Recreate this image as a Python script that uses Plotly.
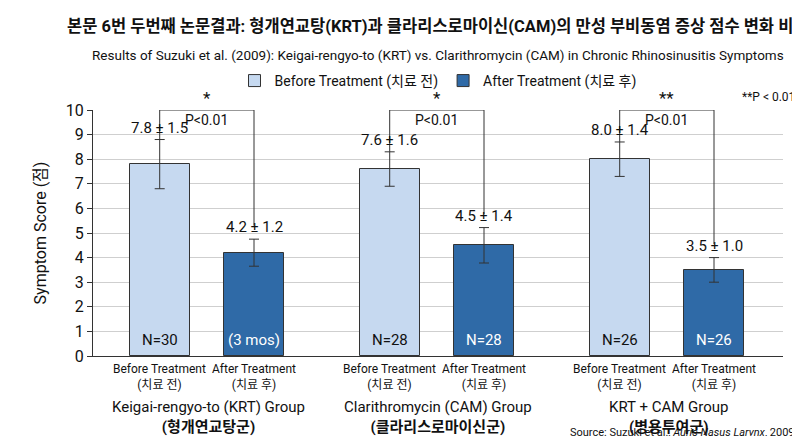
import plotly.graph_objects as go

groups = ["Keigai-rengyo-to (KRT) Group<br><b>(형개연교탕군)</b>",
          "Clarithromycin (CAM) Group<br><b>(클라리스로마이신군)</b>",
          "KRT + CAM Group<br><b>(병용투여군)</b>"]
before_mean = [7.8, 7.6, 8.0]
before_sd = [1.5, 1.6, 1.4]
before_err = [1.0, 0.7, 0.7]
after_mean = [4.2, 4.5, 3.5]
after_sd = [1.2, 1.4, 1.0]
after_err = [0.55, 0.72, 0.5]
before_n = ["N=30", "N=28", "N=26"]
after_n = ["(3 mos)", "N=28", "N=26"]
stars = ["*", "*", "**"]

FONT = "Roboto, Noto Sans CJK KR, Arial"
xb = [g + 0.29 for g in range(3)]
xa = [g + 0.70 for g in range(3)]

fig = go.Figure()
fig.add_trace(go.Bar(x=xb, y=before_mean, width=0.26, name="Before Treatment (치료 전)",
                     marker=dict(color="#c6d9f0", line=dict(color="#333", width=1)),
                     error_y=dict(type="data", array=before_err, color="#333", thickness=1, width=5)))
fig.add_trace(go.Bar(x=xa, y=after_mean, width=0.26, name="After Treatment (치료 후)",
                     marker=dict(color="#2f6aa7", line=dict(color="#333", width=1)),
                     error_y=dict(type="data", array=after_err, color="#333", thickness=1, width=5)))

for i in range(3):
    fig.add_annotation(x=xb[i], y=before_mean[i] + before_err[i], text=f"{before_mean[i]:.1f} ± {before_sd[i]:.1f}",
                       showarrow=False, yanchor="bottom", yshift=1, font=dict(size=15))
    fig.add_annotation(x=xa[i], y=after_mean[i] + after_err[i], text=f"{after_mean[i]:.1f} ± {after_sd[i]:.1f}",
                       showarrow=False, yanchor="bottom", yshift=1, font=dict(size=15))
    fig.add_annotation(x=xb[i], y=0.65, text=before_n[i], showarrow=False, font=dict(size=15, color="#111"))
    fig.add_annotation(x=xa[i], y=0.65, text=after_n[i], showarrow=False, font=dict(size=15, color="white"))
    # bracket
    fig.add_shape(type="path", line=dict(color="#333", width=1),
                  path=f"M {xb[i]},{before_mean[i] + before_err[i]} L {xb[i]},10 L {xa[i]},10 L {xa[i]},{after_mean[i] + after_err[i] + 0.55}")
    fig.add_annotation(x=(xb[i] + xa[i]) / 2, y=10, text=stars[i], showarrow=False, yanchor="bottom",
                       font=dict(size=17, color="#111"))
    fig.add_annotation(x=(xb[i] + xa[i]) / 2, y=9.6, text="P<0.01", showarrow=False, font=dict(size=14))
    fig.add_annotation(x=xb[i], y=0, yref="y", text="Before Treatment<br>(치료 전)", showarrow=False,
                       yanchor="top", yshift=-4, font=dict(size=12))
    fig.add_annotation(x=xa[i], y=0, yref="y", text="After Treatment<br>(치료 후)", showarrow=False,
                       yanchor="top", yshift=-4, font=dict(size=12))
    fig.add_annotation(x=i + 0.5, y=0, yref="y", text=groups[i], showarrow=False,
                       yanchor="top", yshift=-40, font=dict(size=15))
    if i > 0:
        fig.add_shape(type="line", x0=i, x1=i, y0=0, y1=-0.25, line=dict(color="#333", width=1))

fig.add_annotation(x=0.5, y=1.385, xref="paper", yref="paper", text="<b>본문 6번 두번째 논문결과: 형개연교탕(KRT)과 클라리스로마이신(CAM)의 만성 부비동염 증상 점수 변화 비교</b>",
                   showarrow=False, font=dict(size=16.5), yanchor="top")
fig.add_annotation(x=0.5, y=1.265, xref="paper", yref="paper",
                   text="Results of Suzuki et al. (2009): Keigai-rengyo-to (KRT) vs. Clarithromycin (CAM) in Chronic Rhinosinusitis Symptoms",
                   showarrow=False, font=dict(size=13.5), yanchor="top")
fig.add_annotation(x=1.02, y=1.09, xref="paper", yref="paper", text="**P < 0.01", showarrow=False,
                   xanchor="right", font=dict(size=12))
fig.add_annotation(x=1.02, y=-0.345, xref="paper", yref="paper",
                   text="Source: Suzuki et al., <i>Auris Nasus Larynx</i>, 2009", showarrow=False,
                   xanchor="right", yanchor="bottom", font=dict(size=11))

fig.update_layout(
    width=800, height=436, plot_bgcolor="white", paper_bgcolor="white",
    margin=dict(l=85, r=25, t=102, b=88),
    font=dict(family=FONT, color="#111"),
    bargap=0, showlegend=True,
    legend=dict(orientation="h", x=0.5, xanchor="center", y=1.118, yanchor="middle",
                font=dict(size=14), bgcolor="rgba(0,0,0,0)"),
    xaxis=dict(range=[0, 3], showticklabels=False, showgrid=False, zeroline=False,
               showline=True, linecolor="#333", ticks=""),
    yaxis=dict(range=[0, 10], dtick=1, showgrid=True, gridcolor="#cfcfcf", zeroline=False,
               showline=True, linecolor="#333", ticks="outside", ticklen=5, tickcolor="#333",
               tickfont=dict(size=16), title=dict(text="Symptom Score (점)", font=dict(size=16))),
)

fig.write_html("out.html")
